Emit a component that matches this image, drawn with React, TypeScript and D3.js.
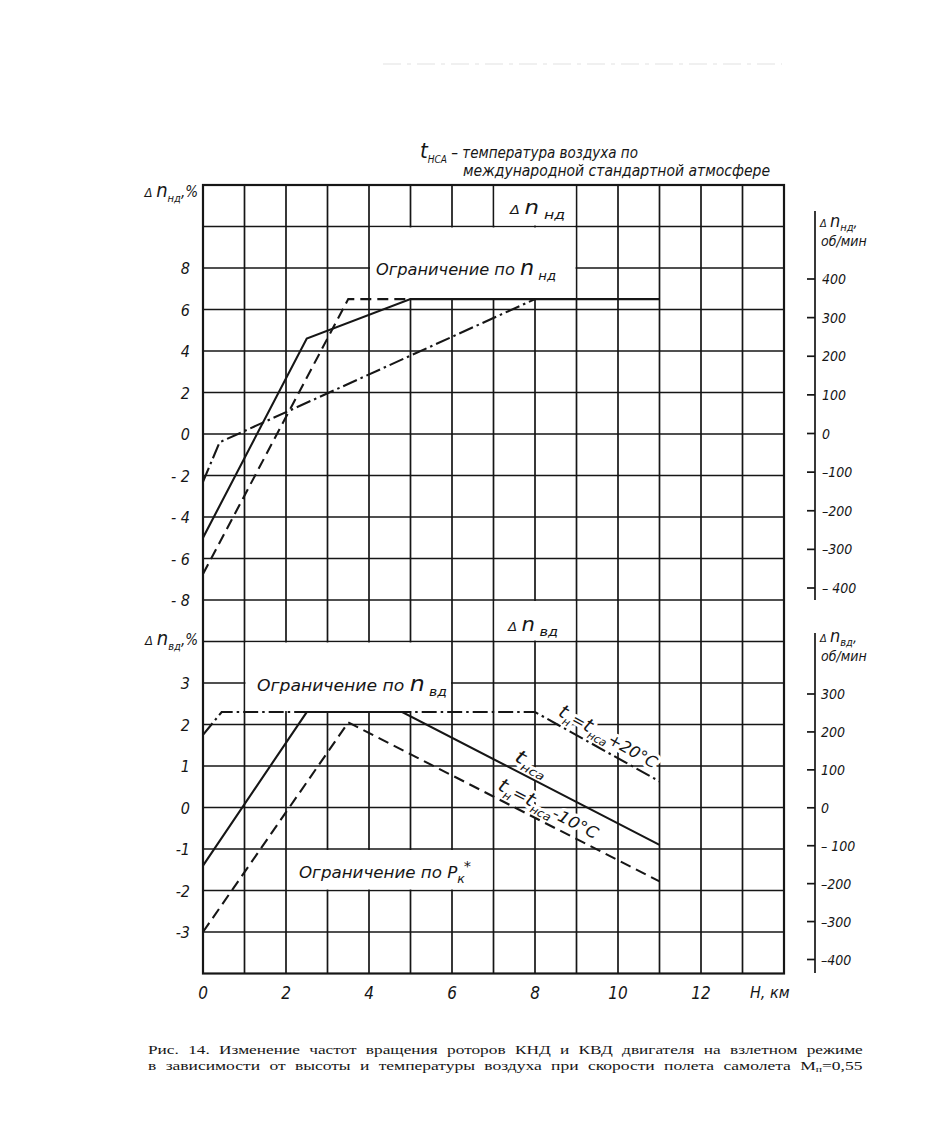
import React, { useLayoutEffect, useRef, useState } from 'react';
import * as d3 from 'd3';

type Pt = [number, number];

// ---------- data ----------
const H_TICKS = [0, 2, 4, 6, 8, 10, 12];
const ND_PCT_TICKS = [8, 6, 4, 2, 0, -2, -4, -6, -8];
const ND_PCT_LABELS = ['8', '6', '4', '2', '0', '- 2', '- 4', '- 6', '- 8'];
const VD_PCT_TICKS = [3, 2, 1, 0, -1, -2, -3];
const VD_PCT_LABELS = ['3', '2', '1', '0', '-1', '-2', '-3'];
const ND_RPM_TICKS = [400, 300, 200, 100, 0, -100, -200, -300, -400];
const ND_RPM_LABELS = ['400', '300', '200', '100', '0', '–100', '–200', '–300', '– 400'];
const VD_RPM_TICKS = [300, 200, 100, 0, -100, -200, -300, -400];
const VD_RPM_LABELS = ['300', '200', '100', '0', '– 100', '–200', '–300', '–400'];

// Δn НД, % vs H, km
const ND_STD: Pt[] = [[0, -5], [2.5, 4.6], [5, 6.5], [11, 6.5]];
const ND_MINUS10: Pt[] = [[0, -6.75], [3.5, 6.5], [5, 6.5]];
const ND_PLUS20: Pt[] = [[0, -2.3], [0.4, -0.4], [8, 6.5]];
// Δn ВД, % vs H, km
const VD_STD: Pt[] = [[0, -1.4], [2.5, 2.3], [4.8, 2.3], [11, -0.9]];
const VD_MINUS10: Pt[] = [[0, -3], [3.5, 2.05], [11, -1.78]];
const VD_PLUS20: Pt[] = [[0, 1.75], [0.45, 2.3], [8, 2.3], [11, 0.63]];

const CAPTION_1 = 'Рис. 14. Изменение частот вращения роторов КНД и КВД двигателя на взлетном режиме';
const CAPTION_2A = 'в зависимости от высоты и температуры воздуха при скорости полета самолета M';
const CAPTION_2SUB = 'п';
const CAPTION_2B = '=0,55';

// ---------- layout ----------
const W = 938, HGT = 1133;
const INK = '#161616';
const FONT = "'DejaVu Sans Condensed','Liberation Sans Narrow','DejaVu Sans',sans-serif";
const SERIF = "'Liberation Serif','DejaVu Serif',serif";

const x = d3.scaleLinear().domain([0, 14]).range([203, 784]);
const yND = d3.scaleLinear().domain([-8, 12]).range([600, 185]);
const yVD = d3.scaleLinear().domain([-4, 5]).range([973.5, 600]);
const rND = d3.scaleLinear().domain([-400, 400]).range([588, 279]);
const rVD = d3.scaleLinear().domain([-400, 300]).range([959.5, 694]);

const DASH = '11 6';
const DASHDOT = '15 4 2.5 4';

type Part = { t: string; s?: 'sub' | 'sup'; fs?: number; dx?: number };

function Rich(props: {
  x: number; y: number; parts: Part[]; fs: number; anchor?: string;
  halo?: boolean; family?: string; italic?: boolean; textLength?: number;
}) {
  const { parts, fs } = props;
  let cur = 0;
  const spans = parts.map((p, i) => {
    const size = p.fs ?? (p.s ? fs * 0.7 : fs);
    const target = p.s === 'sub' ? fs * 0.32 : p.s === 'sup' ? -fs * 0.42 : 0;
    const dy = target - cur;
    cur = target;
    return (
      <tspan key={i} dy={dy} dx={p.dx ?? 0} fontSize={size}>{p.t}</tspan>
    );
  });
  const halo = props.halo;
  return (
    <text
      x={props.x}
      y={props.y}
      fontFamily={props.family ?? FONT}
      fontStyle={props.italic === false ? 'normal' : 'italic'}
      fontSize={fs}
      textAnchor={props.anchor ?? 'start'}
      fill={halo ? '#fff' : INK}
      stroke={halo ? '#fff' : 'none'}
      strokeWidth={halo ? 6 : 0}
      strokeLinejoin="round"
      textLength={props.textLength}
      lengthAdjust={props.textLength ? 'spacingAndGlyphs' : undefined}
    >
      {spans}
    </text>
  );
}

// justified caption line: glyphs widened slightly, word spacing fills the rest
function Justified(props: { x: number; y: number; width: number; gaps: number; children: React.ReactNode }) {
  const ref = useRef<SVGTextElement>(null);
  const [fit, setFit] = useState<{ sx: number; ws: number } | null>(null);
  useLayoutEffect(() => {
    const el = ref.current;
    if (!el || fit !== null) return;
    const natural = el.getComputedTextLength();
    const sx = Math.min(1.4, Math.max(1, (props.width - props.gaps * 5) / natural));
    const ws = Math.max(0, (props.width / sx - natural) / Math.max(1, props.gaps));
    setFit({ sx, ws });
  }, [fit, props.width, props.gaps]);
  const sx = fit ? fit.sx : 1;
  return (
    <g transform={`translate(${props.x},${props.y}) scale(${sx},0.86)`}>
      <text ref={ref} x={0} y={0} fontFamily={SERIF} fontSize={15} fill={INK}
        style={{ wordSpacing: `${fit ? fit.ws : 0}px` }}>
        {props.children}
      </text>
    </g>
  );
}

type Box = { x0: number; x1: number; y0: number; y1: number; s: 'nd' | 'vd' };
const BOXES: Box[] = [
  { x0: 7, x1: 9, y0: 10, y1: 12, s: 'nd' },
  { x0: 4, x1: 9, y0: 6.5, y1: 10, s: 'nd' },
  { x0: 7, x1: 9, y0: 4, y1: 5, s: 'vd' },
  { x0: 1, x1: 6, y0: 2.3, y1: 4, s: 'vd' },
  { x0: 2, x1: 7, y0: -2, y1: -1, s: 'vd' },
];

function along(pts: Pt[], k: number, y: d3.ScaleLinear<number, number>, dk = 0.5) {
  const f = d3.scaleLinear().domain(pts.map(p => p[0])).range(pts.map(p => p[1]));
  const px = x(k), py = y(f(k));
  const px2 = x(k + dk), py2 = y(f(k + dk));
  const ang = (Math.atan2(py2 - py, px2 - px) * 180) / Math.PI;
  return { px, py, ang };
}

export default function App() {
  const lineND = d3.line<Pt>().x(d => x(d[0])).y(d => yND(d[1]));
  const lineVD = d3.line<Pt>().x(d => x(d[0])).y(d => yVD(d[1]));

  const xL = x(0), xR = x(14), yT = yND(12), yB = yVD(-4);
  const kms = d3.range(1, 14);
  const ndLines = d3.range(-6, 12, 2);
  const vdLines = d3.range(-3, 5, 1);

  const rot = [
    { pts: VD_PLUS20, k: 8.4, len: 110, parts: [{ t: 't', fs: 19 }, { t: 'н', s: 'sub' }, { t: '=' }, { t: 't', fs: 19 }, { t: 'нса', s: 'sub' }, { t: '+20°C' }] as Part[] },
    { pts: VD_STD, k: 7.35, len: 35, parts: [{ t: 't', fs: 19 }, { t: 'нса', s: 'sub' }] as Part[] },
    { pts: VD_MINUS10, k: 6.95, len: 110, parts: [{ t: 't', fs: 19 }, { t: 'н', s: 'sub' }, { t: '=' }, { t: 't', fs: 19 }, { t: 'нса', s: 'sub' }, { t: '-10°C' }] as Part[] },
  ].map(r => ({ ...r, ...along(r.pts, r.k, yVD) }));

  const rotLabels = (halo: boolean) =>
    rot.map((r, i) => (
      <g key={i} transform={`translate(${r.px},${r.py}) rotate(${r.ang})`}>
        <Rich x={2} y={-8} fs={16} parts={r.parts} halo={halo} textLength={r.len} />
      </g>
    ));

  const gaps1 = CAPTION_1.split(' ').length - 1;
  const gaps2 = CAPTION_2A.split(' ').length - 1;

  return (
    <svg width={W} height={HGT} viewBox={`0 0 ${W} ${HGT}`}
      style={{ position: 'absolute', left: 0, top: 0, background: '#fff' }}>
      <rect x={0} y={0} width={W} height={HGT} fill="#fff" />
      {/* scan artifact at top */}
      <line x1={383} x2={782} y1={64} y2={64} stroke="#e2e2e2" strokeWidth={1.2} strokeDasharray="18 6 4 6" />

      {/* title */}
      <Rich x={420} y={158} fs={15} parts={[{ t: 't', fs: 22 }, { t: 'НСА', s: 'sub', fs: 10 }, { t: ' – температура воздуха по' }]} />
      <Rich x={463} y={176} fs={15} parts={[{ t: 'международной стандартной атмосфере' }]} textLength={307} />

      {/* grid */}
      <g stroke={INK} strokeWidth={1.7} fill="none">
        {kms.map(k => <line key={'v' + k} x1={x(k)} x2={x(k)} y1={yT} y2={yB} />)}
        {ndLines.map(v => <line key={'hn' + v} x1={xL} x2={xR} y1={yND(v)} y2={yND(v)} />)}
        <line x1={xL} x2={xR} y1={yND(-8)} y2={yND(-8)} />
        {vdLines.map(v => <line key={'hv' + v} x1={xL} x2={xR} y1={yVD(v)} y2={yVD(v)} />)}
      </g>
      {/* label boxes interrupt the grid */}
      {BOXES.map((b, i) => {
        const ys = b.s === 'nd' ? yND : yVD;
        return (
          <rect key={i} x={x(b.x0) + 1} y={ys(b.y1) + 1}
            width={x(b.x1) - x(b.x0) - 2} height={ys(b.y0) - ys(b.y1) - 2} fill="#fff" />
        );
      })}
      <rect x={xL} y={yT} width={xR - xL} height={yB - yT} fill="none" stroke={INK} strokeWidth={2.2} />

      {/* halos of rotated labels */}
      {rotLabels(true)}

      {/* curves */}
      <g fill="none" stroke={INK} strokeWidth={2.1} strokeLinejoin="miter">
        <path d={lineND(ND_STD) ?? ''} />
        <path d={lineND(ND_MINUS10) ?? ''} strokeDasharray={DASH} />
        <path d={lineND(ND_PLUS20) ?? ''} strokeDasharray={DASHDOT} />
        <path d={lineVD(VD_STD) ?? ''} />
        <path d={lineVD(VD_MINUS10) ?? ''} strokeDasharray={DASH} />
        <path d={lineVD(VD_PLUS20) ?? ''} strokeDasharray={DASHDOT} />
      </g>

      {rotLabels(false)}

      {/* in-chart labels */}
      <Rich x={510} y={214} fs={16} textLength={55} parts={[{ t: 'Δ ', fs: 12 }, { t: 'n', fs: 19 }, { t: ' нд', s: 'sub', fs: 13 }]} />
      <Rich x={376} y={275} fs={16} textLength={180} parts={[{ t: 'Ограничение  по  ' }, { t: 'n', fs: 22 }, { t: ' нд', s: 'sub', fs: 13 }]} />
      <Rich x={508} y={631} fs={16} textLength={50} parts={[{ t: 'Δ ', fs: 12 }, { t: 'n', fs: 19 }, { t: ' вд', s: 'sub', fs: 13 }]} />
      <Rich x={257} y={691} fs={16} textLength={190} parts={[{ t: 'Ограничение  по  ' }, { t: 'n', fs: 22 }, { t: ' вд', s: 'sub', fs: 13 }]} />
      <Rich x={299} y={878} fs={16} textLength={172} parts={[{ t: 'Ограничение  по  P' }, { t: 'к', s: 'sub', fs: 12 }, { t: '*', s: 'sup', fs: 14, dx: -1 }]} />

      {/* left axis: Δn НД, % */}
      <Rich x={198} y={197} fs={15} anchor="end" parts={[{ t: 'Δ ', fs: 13 }, { t: 'n', fs: 20 }, { t: 'нд', s: 'sub', fs: 11 }, { t: ',%' }]} />
      {ND_PCT_TICKS.map((v, i) => (
        <text key={'nl' + v} x={190} y={yND(v) + 6} textAnchor="end" fontFamily={FONT}
          fontStyle="italic" fontSize={16} fill={INK}>{ND_PCT_LABELS[i]}</text>
      ))}
      {/* left axis: Δn ВД, % */}
      <Rich x={198} y={645} fs={15} anchor="end" parts={[{ t: 'Δ ', fs: 13 }, { t: 'n', fs: 20 }, { t: 'вд', s: 'sub', fs: 11 }, { t: ',%' }]} />
      {VD_PCT_TICKS.map((v, i) => (
        <text key={'vl' + v} x={190} y={yVD(v) + 6} textAnchor="end" fontFamily={FONT}
          fontStyle="italic" fontSize={16} fill={INK}>{VD_PCT_LABELS[i]}</text>
      ))}

      {/* x axis */}
      {H_TICKS.map(v => (
        <text key={'x' + v} x={x(v)} y={999} textAnchor="middle" fontFamily={FONT}
          fontStyle="italic" fontSize={17} fill={INK}>{v}</text>
      ))}
      <text x={750} y={998} fontFamily={FONT} fontStyle="italic" fontSize={16} fill={INK}>Н, км</text>

      {/* right axis: Δn НД, об/мин */}
      <line x1={815} x2={815} y1={211} y2={600} stroke={INK} strokeWidth={1.7} />
      {ND_RPM_TICKS.map((v, i) => (
        <g key={'rn' + v}>
          <line x1={807} x2={815} y1={rND(v)} y2={rND(v)} stroke={INK} strokeWidth={1.7} />
          <text x={822} y={rND(v) + 5} fontFamily={FONT} fontStyle="italic" fontSize={14} fill={INK}>{ND_RPM_LABELS[i]}</text>
        </g>
      ))}
      <Rich x={820} y={227} fs={14} parts={[{ t: 'Δ ', fs: 11 }, { t: 'n', fs: 18 }, { t: 'нд', s: 'sub', fs: 11 }, { t: ',' }]} />
      <Rich x={821} y={246} fs={14} parts={[{ t: 'об/мин' }]} />

      {/* right axis: Δn ВД, об/мин */}
      <line x1={815} x2={815} y1={633} y2={973} stroke={INK} strokeWidth={1.7} />
      {VD_RPM_TICKS.map((v, i) => (
        <g key={'rv' + v}>
          <line x1={807} x2={815} y1={rVD(v)} y2={rVD(v)} stroke={INK} strokeWidth={1.7} />
          <text x={821} y={rVD(v) + 5} fontFamily={FONT} fontStyle="italic" fontSize={14} fill={INK}>{VD_RPM_LABELS[i]}</text>
        </g>
      ))}
      <Rich x={820} y={642} fs={14} parts={[{ t: 'Δ ', fs: 11 }, { t: 'n', fs: 18 }, { t: 'вд', s: 'sub', fs: 11 }, { t: ',' }]} />
      <Rich x={821} y={661} fs={14} parts={[{ t: 'об/мин' }]} />

      {/* caption */}
      <Justified x={148} y={1054} width={714} gaps={gaps1}>{CAPTION_1}</Justified>
      <Justified x={148} y={1070} width={714} gaps={gaps2}>
        {CAPTION_2A}<tspan dy={2} fontSize={10}>{CAPTION_2SUB}</tspan><tspan dy={-2}>{CAPTION_2B}</tspan>
      </Justified>
    </svg>
  );
}
